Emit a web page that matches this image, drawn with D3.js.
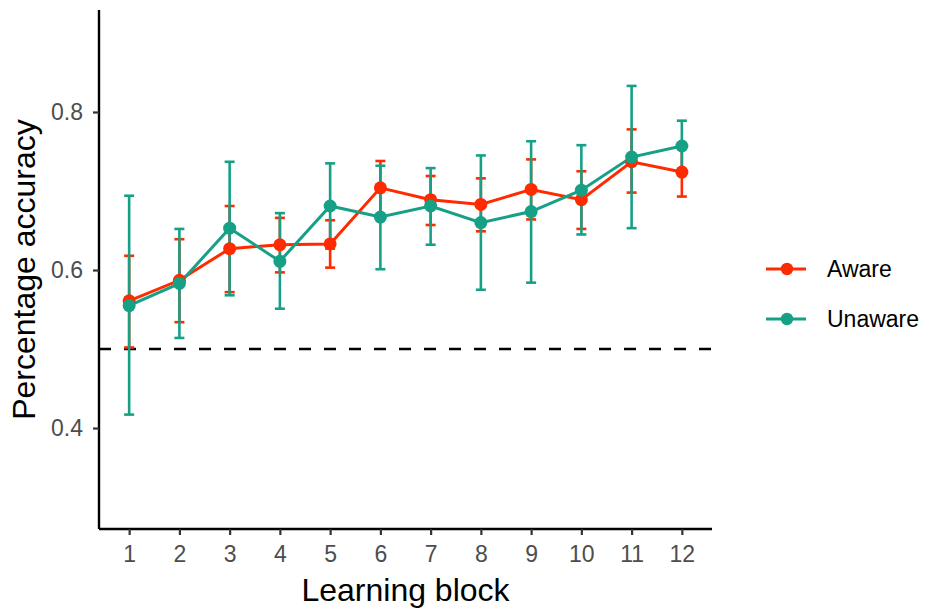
<!DOCTYPE html>
<html lang="en">
<head>
<meta charset="UTF-8">
<title>Learning block accuracy</title>
<script src="https://d3js.org/d3.v7.min.js"></script>
<style>
  body { margin: 0; background: #fff; }
  text { font-family: "Liberation Sans", Arial, sans-serif; }
</style>
</head>
<body>
<svg id="chart" width="932" height="613"></svg>
<script>
  // data
  var blocks = [1, 2, 3, 4, 5, 6, 7, 8, 9, 10, 11, 12];
  var groups = ["Aware", "Unaware"];
  var colors = ["#ff2b00", "#16a086"];

  var awareMean  = [0.561, 0.587, 0.627, 0.632, 0.633, 0.704, 0.689, 0.683, 0.702, 0.689, 0.737, 0.724];
  var awareLow   = [0.502, 0.534, 0.572, 0.597, 0.603, 0.670, 0.657, 0.649, 0.664, 0.652, 0.698, 0.693];
  var awareHigh  = [0.618, 0.639, 0.681, 0.666, 0.663, 0.738, 0.719, 0.716, 0.740, 0.725, 0.778, 0.755];

  var unawareMean = [0.555, 0.583, 0.653, 0.611, 0.681, 0.667, 0.681, 0.660, 0.674, 0.701, 0.743, 0.757];
  var unawareLow  = [0.417, 0.514, 0.568, 0.551, 0.627, 0.601, 0.632, 0.575, 0.584, 0.645, 0.653, 0.725];
  var unawareHigh = [0.694, 0.652, 0.737, 0.672, 0.735, 0.732, 0.729, 0.745, 0.763, 0.758, 0.833, 0.789];

  var yTicks = [0.4, 0.6, 0.8];
  var chance = 0.5;

  // build series from arrays
  var series = [
    { name: groups[0], color: colors[0], pts: blocks.map(function(b, i) { return { b: b, m: awareMean[i], lo: awareLow[i], hi: awareHigh[i] }; }) },
    { name: groups[1], color: colors[1], pts: blocks.map(function(b, i) { return { b: b, m: unawareMean[i], lo: unawareLow[i], hi: unawareHigh[i] }; }) }
  ];

  var svg = d3.select("#chart");
  var pLeft = 99, pRight = 712, pTop = 10, pBottom = 529;

  var x = d3.scaleLinear().domain([0.4, 12.6]).range([pLeft, pRight]);
  var y = d3.scaleLinear().domain([0.2722, 0.9291]).range([pBottom, pTop]);

  // axes
  var xAxis = svg.append("g")
    .attr("transform", "translate(0," + pBottom + ")")
    .call(d3.axisBottom(x).tickValues(blocks).tickSize(6).tickPadding(11).tickFormat(d3.format("d")));
  var yAxis = svg.append("g")
    .attr("transform", "translate(" + pLeft + ",0)")
    .call(d3.axisLeft(y).tickValues(yTicks).tickSize(6).tickPadding(10).tickFormat(d3.format(".1f")));

  [xAxis, yAxis].forEach(function(a) {
    a.select(".domain").attr("stroke", "#000").attr("stroke-width", 2.4);
    a.selectAll(".tick line").attr("stroke", "#333").attr("stroke-width", 2.2);
    a.selectAll(".tick text").attr("fill", "#4d4d4d").style("font-size", "23px");
  });
  xAxis.select(".domain").attr("d", "M" + pLeft + ",0H" + pRight);
  yAxis.select(".domain").attr("d", "M0," + pTop + "V" + pBottom);

  // axis titles
  svg.append("text")
    .attr("x", (pLeft + pRight) / 2).attr("y", 601)
    .attr("text-anchor", "middle")
    .style("font-size", "32px")
    .text("Learning block");
  svg.append("text")
    .attr("transform", "translate(35," + (pTop + pBottom) / 2 + ") rotate(-90)")
    .attr("text-anchor", "middle")
    .style("font-size", "32px")
    .text("Percentage accuracy");

  // chance line
  svg.append("line")
    .attr("x1", pLeft).attr("x2", pRight)
    .attr("y1", y(chance)).attr("y2", y(chance))
    .attr("stroke", "#000").attr("stroke-width", 2.4).attr("stroke-dasharray", "12,13");

  var cap = 5;

  // error bars
  series.forEach(function(s) {
    var g = svg.append("g").attr("stroke", s.color).attr("stroke-width", 2.6).attr("fill", "none");
    var eb = g.selectAll("g").data(s.pts).enter().append("g");
    eb.append("line")
      .attr("x1", function(d) { return x(d.b); }).attr("x2", function(d) { return x(d.b); })
      .attr("y1", function(d) { return y(d.lo); }).attr("y2", function(d) { return y(d.hi); });
    eb.append("line")
      .attr("x1", function(d) { return x(d.b) - cap; }).attr("x2", function(d) { return x(d.b) + cap; })
      .attr("y1", function(d) { return y(d.lo); }).attr("y2", function(d) { return y(d.lo); });
    eb.append("line")
      .attr("x1", function(d) { return x(d.b) - cap; }).attr("x2", function(d) { return x(d.b) + cap; })
      .attr("y1", function(d) { return y(d.hi); }).attr("y2", function(d) { return y(d.hi); });
  });

  // lines
  var line = d3.line().x(function(d) { return x(d.b); }).y(function(d) { return y(d.m); });
  series.forEach(function(s) {
    svg.append("path")
      .attr("d", line(s.pts))
      .attr("fill", "none").attr("stroke", s.color).attr("stroke-width", 3);
  });

  // points
  series.forEach(function(s) {
    svg.append("g").selectAll("circle").data(s.pts).enter().append("circle")
      .attr("cx", function(d) { return x(d.b); })
      .attr("cy", function(d) { return y(d.m); })
      .attr("r", 6.5)
      .attr("fill", s.color);
  });

  // legend
  var legend = svg.append("g").attr("transform", "translate(766,269)");
  series.forEach(function(s, i) {
    var row = legend.append("g").attr("transform", "translate(0," + i * 50 + ")");
    row.append("line").attr("x1", 0).attr("x2", 40).attr("stroke", s.color).attr("stroke-width", 3);
    row.append("circle").attr("cx", 21).attr("r", 6.2).attr("fill", s.color);
    row.append("text").attr("x", 61).attr("dy", "0.35em").style("font-size", "23px").text(s.name);
  });
</script>
</body>
</html>
